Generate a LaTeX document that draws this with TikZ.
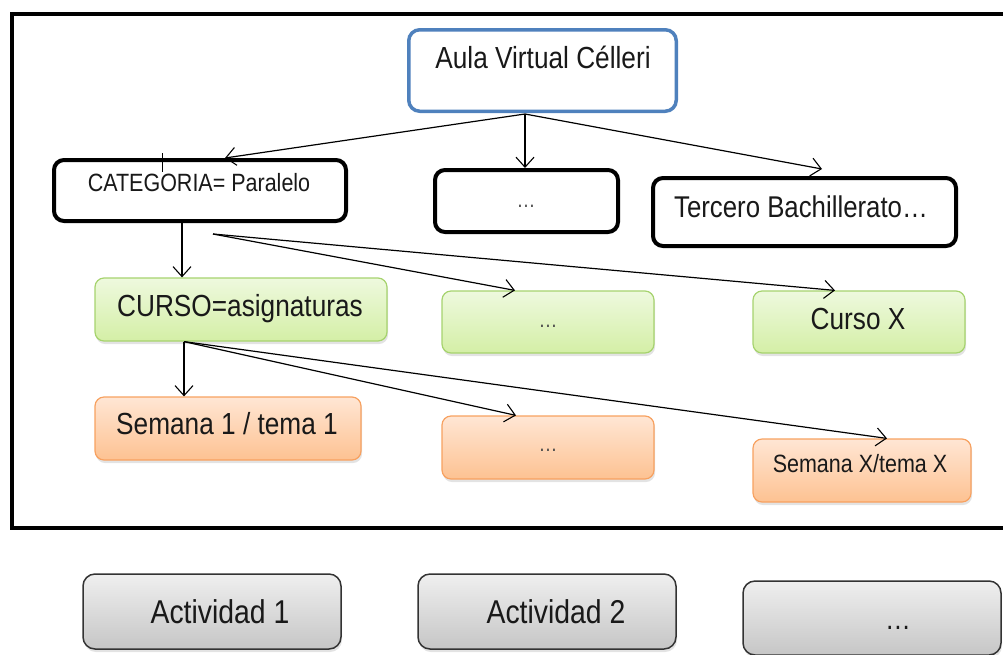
\documentclass[tikz,border=0pt]{standalone}
\usepackage{fontspec}
\setmainfont{Liberation Sans}
\newfontfamily\cnd[FakeStretch=0.86]{Liberation Sans}
\usetikzlibrary{arrows.meta,shadows}
\definecolor{blueb}{HTML}{4F81BD}
\definecolor{greenb}{HTML}{A6D36E}
\definecolor{greentop}{HTML}{EEF9DE}
\definecolor{greenbot}{HTML}{D4EFA6}
\definecolor{orangeb}{HTML}{F7A160}
\definecolor{orangetop}{HTML}{FFE6D4}
\definecolor{orangebot}{HTML}{FDC292}
\definecolor{graytop}{HTML}{EFEFEF}
\definecolor{graybot}{HTML}{C6C6C6}
\begin{document}
\begin{tikzpicture}[x=1pt,y=-1pt,
  shd/.style={drop shadow={opacity=0.22,shadow xshift=1pt,shadow yshift=-3pt}},
  bluebox/.style={draw=blueb,line width=3.5pt,rounded corners=11pt,fill=white,inner sep=0pt},
  blackbox/.style={draw=black,line width=4pt,rounded corners=10pt,fill=white,inner sep=0pt},
  greenbox/.style={draw=greenb,line width=1.2pt,rounded corners=9pt,top color=greentop,bottom color=greenbot,shd,inner sep=0pt},
  orangebox/.style={draw=orangeb,line width=1.2pt,rounded corners=9pt,top color=orangetop,bottom color=orangebot,shd,inner sep=0pt},
  graybox/.style={draw=black!80,line width=1.5pt,rounded corners=12pt,top color=graytop,bottom color=graybot,shd,inner sep=0pt},
  txt/.style={font=\cnd, anchor=base, inner sep=0pt, text=black!90},
  arr/.style={line width=1.2pt,-{Straight Barb[length=10pt,width=18pt,line width=1.1pt]}}
]
\useasboundingbox (0,0) rectangle (1003,654);
% outer frame
\draw[line width=4pt] (1003,14) -- (12,14) -- (12,528) -- (1003,528);

% boxes
\node[bluebox,minimum width=267.5pt,minimum height=81.5pt] (aula) at (542.5,70.5) {};
\node[blackbox,minimum width=292pt,minimum height=61pt] (cat) at (200,190.5) {};
\node[blackbox,minimum width=183pt,minimum height=62pt] (dots1) at (526.5,201) {};
\node[blackbox,minimum width=303pt,minimum height=68pt] (terc) at (804.5,212) {};
\node[greenbox,minimum width=292pt,minimum height=63pt] (curso) at (241,309.5) {};
\node[greenbox,minimum width=212pt,minimum height=62pt] (gdots) at (548,322) {};
\node[greenbox,minimum width=212pt,minimum height=62pt] (cursox) at (859,322) {};
\node[orangebox,minimum width=266pt,minimum height=63pt] (sem1) at (228,428.5) {};
\node[orangebox,minimum width=212pt,minimum height=63pt] (odots) at (548,447.5) {};
\node[orangebox,minimum width=218pt,minimum height=63pt] (semx) at (862,470.5) {};
\node[graybox,minimum width=258pt,minimum height=75pt] (act1) at (212,611.5) {};
\node[graybox,minimum width=258pt,minimum height=75pt] (act2) at (547,611.5) {};
\node[graybox,minimum width=258pt,minimum height=74pt] (act3) at (872,618) {};

% texts
\node[txt,font=\cnd\fontsize{30.5}{36}\selectfont] (taula) at (543,68) {Aula Virtual Célleri};
\node[txt,font=\cnd\fontsize{25}{30}\selectfont] (tcat) at (199,191) {CATEGORIA= Paralelo};
\node[txt,font=\cnd\fontsize{22}{26}\selectfont,text=black!70] (tdots1) at (526,207) {…};
\node[txt,font=\cnd\fontsize{30}{36}\selectfont] (tterc) at (801,217) {Tercero Bachillerato…};
\node[txt,font=\cnd\fontsize{30.5}{36}\selectfont] (tcurso) at (240,316) {CURSO=asignaturas};
\node[txt,font=\cnd\fontsize{22}{26}\selectfont,text=black!70] (tgdots) at (548,327) {…};
\node[txt,font=\cnd\fontsize{30.5}{36}\selectfont] (tcursox) at (858,329) {Curso X};
\node[txt,font=\cnd\fontsize{30.5}{36}\selectfont] (tsem1) at (227,434) {Semana 1 / tema 1};
\node[txt,font=\cnd\fontsize{22}{26}\selectfont,text=black!70] (todots) at (548,451) {…};
\node[txt,font=\cnd\fontsize{25}{30}\selectfont] (tsemx) at (860,472) {Semana X/tema X};
\node[txt,font=\cnd\fontsize{33}{40}\selectfont] (tact1) at (220,623) {Actividad 1};
\node[txt,font=\cnd\fontsize{33}{40}\selectfont] (tact2) at (556,623) {Actividad 2};
\node[txt,font=\cnd\fontsize{30}{36}\selectfont] (tact3) at (898,629) {…};

% stray tick
\draw[line width=1pt] ([xshift=-38pt,yshift=5pt]cat.north) -- ([xshift=-38pt,yshift=-14pt]cat.north);

% connectors from Aula
\coordinate (ao) at ([xshift=-17.5pt,yshift=-1pt]aula.south);
\draw[arr] (ao) -- ([xshift=25pt]cat.north);
\draw[arr] (ao) -- ([xshift=-1.5pt]dots1.north);
\draw[arr] (ao) -- ([xshift=17.5pt,yshift=7pt]terc.north);

% connectors from Categoria
\draw[arr] ([xshift=-18pt]cat.south) -- ([xshift=-59pt]curso.north);
\coordinate (co) at ([xshift=13pt,yshift=-11pt]cat.south);
\draw[arr] (co) -- ([xshift=-33pt]gdots.north);
\draw[arr] (co) -- ([xshift=-24pt]cursox.north);

% connectors from Curso
\coordinate (uo) at ([xshift=-57pt]curso.south);
\draw[arr] (uo) -- ([xshift=-44pt]sem1.north);
\draw[arr] (uo) -- ([xshift=-32pt]odots.north);
\draw[arr] (uo) -- ([xshift=25pt]semx.north);
\end{tikzpicture}
\end{document}
